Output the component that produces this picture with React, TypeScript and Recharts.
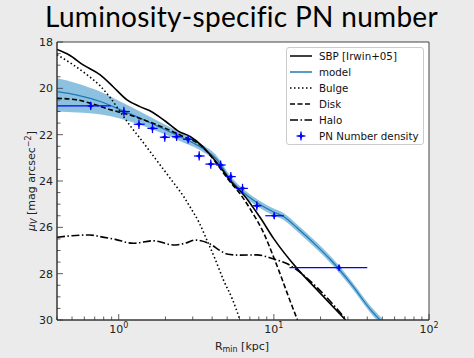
import { ComposedChart, Area, Line, Scatter, ErrorBar, XAxis, YAxis, CartesianGrid, ReferenceArea } from "recharts";

// model curve + band (R in kpc, mu_V in mag/arcsec^2)
const modelR = [0.4, 0.54, 0.77, 1.03, 1.39, 1.87, 2.5, 3.3, 4.33, 5.2, 6.13, 7.84, 10.05, 11.6, 14.2, 19.1, 23.3, 31.3, 42.2, 50];
const modelMu = [20.14, 20.29, 20.58, 20.93, 21.3, 21.7, 22.1, 22.5, 23.1, 23.9, 24.4, 24.95, 25.35, 25.54, 26.04, 26.83, 27.41, 28.42, 29.57, 30.1];
const bandUp = [0.57, 0.5, 0.42, 0.35, 0.28, 0.22, 0.18, 0.15, 0.15, 0.15, 0.15, 0.15, 0.15, 0.15, 0.15, 0.15, 0.15, 0.15, 0.15, 0.15];
const bandDown = [0.86, 0.75, 0.55, 0.38, 0.28, 0.22, 0.18, 0.15, 0.15, 0.15, 0.15, 0.15, 0.15, 0.15, 0.15, 0.15, 0.15, 0.15, 0.15, 0.15];

const sbpR = [0.4, 0.48, 0.59, 0.76, 0.92, 1.13, 1.37, 1.65, 2.0, 2.45, 2.9, 3.4, 3.9, 4.5, 5.3, 6.4, 8.2, 10, 14, 19, 29];
const sbpMu = [18.32, 18.56, 18.99, 19.42, 19.93, 20.5, 20.79, 21.03, 21.42, 21.87, 22.09, 22.45, 22.88, 23.38, 24.03, 24.6, 25.6, 26.5, 27.75, 28.7, 30.0];

const bulgeR = [0.4, 0.5, 0.62, 0.76, 0.88, 1.02, 1.18, 1.37, 1.6, 1.87, 2.27, 2.64, 2.9, 3.3, 3.7, 4.2, 4.73, 5.4, 6.05];
const bulgeMu = [18.55, 18.95, 19.4, 19.9, 20.4, 21.0, 21.6, 22.15, 22.75, 23.35, 24.1, 24.7, 25.15, 25.8, 26.55, 27.4, 28.27, 29.1, 30.0];

const diskR = [0.4, 0.54, 0.66, 0.89, 1.18, 1.46, 1.8, 2.2, 2.64, 3.2, 3.73, 4.33, 5.1, 6.13, 7.1, 8.67, 10.05, 11.1, 12.2, 14.2];
const diskMu = [20.43, 20.5, 20.65, 20.93, 21.15, 21.37, 21.6, 21.85, 22.1, 22.35, 22.75, 23.3, 23.95, 24.6, 25.25, 26.3, 27.35, 28.1, 28.85, 30.0];

const haloR = [0.4, 0.5, 0.65, 0.76, 0.95, 1.24, 1.67, 2.25, 2.7, 3.1, 3.88, 4.5, 4.97, 6, 7.77, 10, 12, 15, 19, 29];
const haloMu = [26.43, 26.36, 26.33, 26.4, 26.52, 26.69, 26.58, 26.76, 26.68, 26.55, 26.72, 27.0, 27.15, 27.2, 27.19, 27.37, 27.55, 27.98, 28.6, 29.95];

// PN number density points
const pnR = [0.66, 1.08, 1.35, 1.65, 1.98, 2.36, 2.8, 3.3, 3.92, 4.54, 5.28, 6.28, 7.77, 10.05, 26.3];
const pnMu = [20.76, 21.0, 21.55, 21.73, 22.11, 22.09, 22.2, 22.92, 23.27, 23.31, 23.81, 24.32, 25.07, 25.5, 27.74];
const pnRLo = [0.26, 0.1, 0.1, 0.12, 0.14, 0.16, 0.2, 0.25, 0.3, 0.3, 0.35, 0.6, 0.47, 1.25, 13.7];
const pnRHi = [0.23, 0.1, 0.12, 0.13, 0.16, 0.18, 0.22, 0.28, 0.32, 0.35, 0.4, 0.52, 0.53, 1.55, 13.7];
const pnMuErr = [0.18, 0.2, 0.2, 0.2, 0.2, 0.18, 0.18, 0.2, 0.2, 0.2, 0.2, 0.2, 0.2, 0.15, 0.13];

const xTicks = [0.4, 0.5, 0.6, 0.7, 0.8, 0.9, 1, 2, 3, 4, 5, 6, 7, 8, 9, 10, 20, 30, 40, 50, 60, 70, 80, 90, 100];
const yTicks = [18, 18.5, 19, 19.5, 20, 20.5, 21, 21.5, 22, 22.5, 23, 23.5, 24, 24.5, 25, 25.5, 26, 26.5, 27, 27.5, 28, 28.5, 29, 29.5, 30];

const toPts = (rs: number[], mus: number[]) => rs.map((r, i) => ({ r, mu: mus[i] }));

const bandData = modelR.map((r, i) => ({ r, range: [modelMu[i] - bandUp[i], modelMu[i] + bandDown[i]] }));
const modelData = toPts(modelR, modelMu);
const sbpData = toPts(sbpR, sbpMu);
const bulgeData = toPts(bulgeR, bulgeMu);
const diskData = toPts(diskR, diskMu);
const haloData = toPts(haloR, haloMu);
const pnData = pnR.map((r, i) => ({ r, mu: pnMu[i], xErr: [pnRLo[i], pnRHi[i]], yErr: pnMuErr[i] }));

const AX = "#333";
const FONT = "DejaVu Sans";

const XTick = (props: any) => {
  const { x, y, payload } = props;
  const v = payload.value;
  const exp = Math.log10(v);
  const major = Math.abs(exp - Math.round(exp)) < 1e-6;
  return (
    <g>
      <line x1={x} x2={x} y1={y} y2={y - (major ? 6 : 3.5)} stroke={AX} strokeWidth={0.8} />
      {major && (
        <text x={x} y={y + 13} textAnchor="middle" fontSize={11} fill="#222" fontFamily={FONT}>
          10<tspan dy={-5} fontSize={8}>{Math.round(exp)}</tspan>
        </text>
      )}
    </g>
  );
};

const YTick = (props: any) => {
  const { x, y, payload } = props;
  const v = payload.value;
  const major = v % 2 === 0;
  return (
    <g>
      <line x1={x} x2={x + (major ? 6 : 3.5)} y1={y} y2={y} stroke={AX} strokeWidth={0.8} />
      {major && (
        <text x={x - 4} y={y + 4} textAnchor="end" fontSize={11} fill="#222" fontFamily={FONT}>
          {v}
        </text>
      )}
    </g>
  );
};

const Star = (props: any) => {
  const { cx, cy } = props;
  const a = 3.8;
  const b = 1.1;
  const d = `M${cx},${cy - a} L${cx + b},${cy - b} L${cx + a},${cy} L${cx + b},${cy + b} L${cx},${cy + a} L${cx - b},${cy + b} L${cx - a},${cy} L${cx - b},${cy - b} Z`;
  return <path d={d} fill="#0000ff" />;
};

const legendItems = [
  { label: "SBP [Irwin+05]", stroke: "#000", dash: undefined as string | undefined, width: 1.5 },
  { label: "model", stroke: "#1f77b4", dash: undefined, width: 1.5 },
  { label: "Bulge", stroke: "#000", dash: "1.5 2.5", width: 1.5 },
  { label: "Disk", stroke: "#000", dash: "5 2.5", width: 1.5 },
  { label: "Halo", stroke: "#000", dash: "8 2.5 1.5 2.5", width: 1.5 },
  { label: "PN Number density", stroke: "", dash: undefined, width: 0 },
];

function ChartLegend() {
  return (
    <div
      style={{
        position: "absolute",
        left: 286,
        top: 47,
        width: 136,
        height: 96,
        border: "1px solid #cccccc",
        borderRadius: 3,
        background: "rgba(255,255,255,0.85)",
        fontFamily: FONT,
        fontSize: 10.3,
        color: "#111",
      }}
    >
      {legendItems.map((it) => (
        <div key={it.label} style={{ height: 16, display: "flex", alignItems: "center" }}>
          <svg width={32} height={16} style={{ flex: "none" }}>
            {it.width > 0 ? (
              <line x1={3} x2={25} y1={8} y2={8} stroke={it.stroke} strokeWidth={it.width} strokeDasharray={it.dash} />
            ) : (
              <>
                <line x1={14} x2={14} y1={3.5} y2={12.5} stroke="#0000ff" strokeWidth={1.2} />
                <line x1={9.5} x2={18.5} y1={8} y2={8} stroke="#0000ff" strokeWidth={1.2} />
                <Star cx={14} cy={8} />
              </>
            )}
          </svg>
          <span style={{ whiteSpace: "nowrap" }}>{it.label}</span>
        </div>
      ))}
    </div>
  );
}

export default function App() {
  return (
    <div style={{ position: "fixed", left: 0, top: 0, width: 474, height: 358, background: "#ebebeb", overflow: "hidden" }}>
      <ComposedChart width={474} height={358} data={bandData} margin={{ top: 42, right: 45, left: 27, bottom: 13 }}>
        <CartesianGrid horizontal={false} vertical={false} fill="#ffffff" />
        <XAxis
          dataKey="r"
          type="number"
          scale="log"
          domain={[0.4, 100]}
          allowDataOverflow
          ticks={xTicks}
          interval={0}
          tick={<XTick />}
          tickLine={false}
          tickSize={0}
          tickMargin={0}
          height={25}
          axisLine={{ stroke: AX }}
        />
        <YAxis
          type="number"
          domain={[18, 30]}
          reversed
          allowDataOverflow
          ticks={yTicks}
          interval={0}
          tick={<YTick />}
          tickLine={false}
          tickSize={0}
          tickMargin={0}
          width={30}
          axisLine={{ stroke: AX }}
        />
        <Area dataKey="range" type="monotone" stroke="none" fill="#4f9fd0" fillOpacity={0.65} isAnimationActive={false} />
        <Line data={modelData} dataKey="mu" type="monotone" stroke="#1f77b4" strokeWidth={1.2} dot={false} isAnimationActive={false} />
        <Line data={sbpData} dataKey="mu" type="monotone" stroke="#000" strokeWidth={1.6} dot={false} isAnimationActive={false} />
        <Line data={bulgeData} dataKey="mu" type="monotone" stroke="#000" strokeWidth={1.6} strokeDasharray="1.5 2.5" dot={false} isAnimationActive={false} />
        <Line data={diskData} dataKey="mu" type="monotone" stroke="#000" strokeWidth={1.6} strokeDasharray="5 2.5" dot={false} isAnimationActive={false} />
        <Line data={haloData} dataKey="mu" type="monotone" stroke="#000" strokeWidth={1.6} strokeDasharray="8 2.5 1.5 2.5" dot={false} isAnimationActive={false} />
        <Scatter data={pnData} dataKey="mu" shape={<Star />} isAnimationActive={false}>
          <ErrorBar dataKey="xErr" direction="x" width={0} stroke="#0000ff" strokeWidth={1.2} isAnimationActive={false} />
          <ErrorBar dataKey="yErr" direction="y" width={0} stroke="#0000ff" strokeWidth={1.2} isAnimationActive={false} />
        </Scatter>
        <ReferenceArea x1={0.4} x2={100} y1={18} y2={30} fill="none" stroke="#444" strokeWidth={1} ifOverflow="visible" />
      </ComposedChart>
      <ChartLegend />
      <svg width={474} height={358} style={{ position: "absolute", left: 0, top: 0, pointerEvents: "none" }}>
        <text x={241.5} y={27} textAnchor="middle" fontSize={28} fontFamily="Lato" letterSpacing={0.3} fill="#000">
          Luminosity-specific PN number
        </text>
        <text x={242} y={350} textAnchor="middle" fontSize={11} fontFamily={FONT} fill="#222">
          R<tspan fontSize={8} dy={2}>min</tspan>
          <tspan dy={-2}> [kpc]</tspan>
        </text>
        <text transform="translate(35,181) rotate(-90)" textAnchor="middle" fontSize={11} fontFamily={FONT} fill="#222">
          <tspan fontStyle="italic">μ</tspan>
          <tspan fontSize={8} dy={2} fontStyle="italic">V</tspan>
          <tspan dy={-2}> [mag arcsec</tspan>
          <tspan fontSize={8} dy={-4}>−2</tspan>
          <tspan dy={4}>]</tspan>
        </text>
      </svg>
    </div>
  );
}
